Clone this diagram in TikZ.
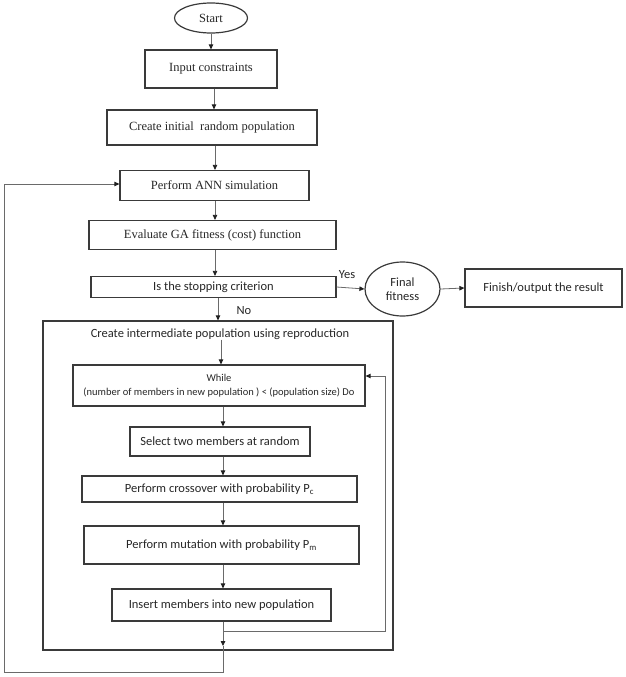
\documentclass[tikz,border=0pt]{standalone}
\usepackage{fontspec}
\setmainfont{Liberation Serif}
\newfontfamily\calfont{Carlito}
\usetikzlibrary{arrows.meta,shapes.geometric}
\definecolor{boxc}{HTML}{3A3A3A}
\definecolor{linec}{HTML}{6A6A6A}
\definecolor{tipc}{HTML}{202020}
\definecolor{txtc}{HTML}{262626}
\tikzset{
  tbox/.style={draw=boxc,line width=1.2pt,rectangle,inner sep=0pt,align=center,text=txtc,font=\fontsize{12.5}{14}\selectfont},
  cbox/.style={draw=boxc,line width=1.2pt,rectangle,inner sep=0pt,align=center,text=txtc,font=\calfont\fontsize{12.5}{14}\selectfont},
  ell/.style={draw=boxc,line width=1.2pt,ellipse,inner sep=0pt,align=center,text=txtc},
  lbl/.style={text=txtc,inner sep=0pt,font=\calfont\fontsize{12.5}{14}\selectfont},
  arr/.style={draw=linec,line width=0.8pt,-{Triangle[length=5pt,width=4.5pt,color=tipc]}},
  ln/.style={draw=linec,line width=0.8pt},
}
\begin{document}
\begin{tikzpicture}[x=1pt,y=-1pt]
\useasboundingbox (0,0) rectangle (625,677);
% top part
\node[ell,minimum width=73pt,minimum height=30pt,font=\fontsize{12.5}{14}\selectfont] (start) at (211,18) {Start};
\node[tbox,minimum width=132pt,minimum height=38pt] (inp) at (211,69) {Input constraints};
\node[tbox,minimum width=210pt,minimum height=35pt] (init) at (212,127.5) {Create initial\ \ random population};
\node[tbox,minimum width=189pt,minimum height=30pt] (ann) at (214.5,185.5) {Perform ANN simulation};
\node[tbox,minimum width=247pt,minimum height=29pt] (eval) at (212.5,235) {Evaluate GA fitness (cost) function};
\node[cbox,minimum width=245pt,minimum height=21pt] (stop) at (213.5,287) {Is the stopping criterion};
\node[ell,minimum width=75pt,minimum height=54pt,font=\calfont\fontsize{12.5}{14}\selectfont] (final) at (402.5,289) {Final\\fitness};
\node[cbox,minimum width=157pt,minimum height=38pt] (finish) at (543.5,288) {Finish/output the result};
% outer box
\node[draw=boxc,line width=1.2pt,rectangle,inner sep=0pt,minimum width=350pt,minimum height=329pt] (outer) at (218,485.5) {};
\node[lbl] (title) at (220,334) {Create intermediate population using reproduction};
\node[cbox,minimum width=292pt,minimum height=41pt,font=\calfont\fontsize{10.5}{13.5}\selectfont] (while) at (219,385.5) {While\\(number of members in new population ) {<} (population size) Do};
\node[cbox,minimum width=180pt,minimum height=29pt] (sel) at (220,441.5) {Select two members at random};
\node[cbox,minimum width=275pt,minimum height=26pt] (cross) at (219.5,489) {Perform crossover with probability P\textsubscript{c}};
\node[cbox,minimum width=275pt,minimum height=38pt] (mut) at (221.5,545) {Perform mutation with probability P\textsubscript{m}};
\node[cbox,minimum width=219pt,minimum height=32pt] (ins) at (221.5,605) {Insert members into new population};
% labels
\node[lbl] (yes) at (347,275) {Yes};
\node[lbl] (no) at (244,311) {No};
% connectors top
\draw[arr] (start.south) -- (start.south |- inp.north);
\draw[arr] (inp.south -| 214,0) -- (init.north -| 214,0);
\draw[arr] (init.south -| 215,0) -- (ann.north -| 215,0);
\draw[arr] (ann.south -| 215,0) -- (eval.north -| 215,0);
\draw[arr] (eval.south -| 215,0) -- (stop.north -| 215,0);
\draw[arr] (stop.south -| 218,0) -- (outer.north -| 218,0);
\draw[arr] (stop.east) -- (final.west);
\draw[arr] (final.east) -- (finish.west);
% inner connectors
\draw[arr] (title.south -| 221,0) -- (while.north -| 221,0);
\draw[arr] (while.south -| 223,0) -- (sel.north -| 223,0);
\draw[arr] (sel.south -| 223,0) -- (cross.north -| 223,0);
\draw[arr] (cross.south -| 223,0) -- (mut.north -| 223,0);
\draw[arr] (mut.south -| 223,0) -- (ins.north -| 223,0);
% loops
\coordinate (j1) at (223,631);
\coordinate (fb1) at (385,631);
\coordinate (fb2) at (385,376);
\coordinate (jb) at (223,646);
\coordinate (c1) at (223,672);
\coordinate (c2) at (4,672);
\coordinate (c3) at (4,184);
\draw[ln] (ins.south -| j1) -- (j1);
\draw[arr] (j1) -- (fb1) -- (fb2) -- (while.east |- fb2);
\draw[arr] (j1) -- (jb);
\draw[arr] (jb) -- (c1) -- (c2) -- (c3) -- (ann.west |- c3);
\end{tikzpicture}
\end{document}
